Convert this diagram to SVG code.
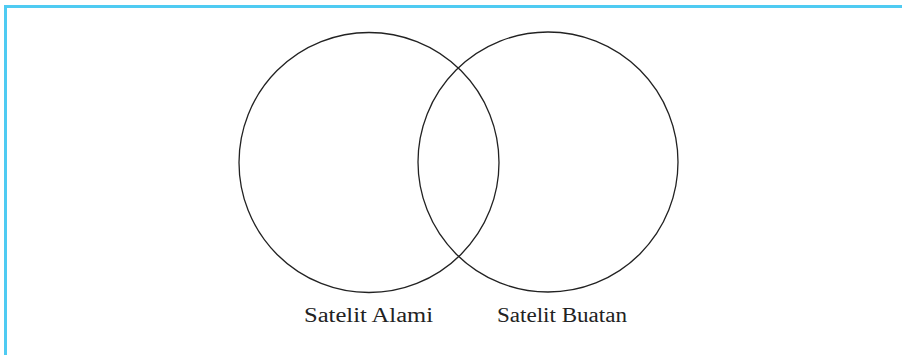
<svg xmlns="http://www.w3.org/2000/svg" width="902" height="355" viewBox="0 0 902 355">
<style>
.frame{fill:none;stroke:#4FCBF2;stroke-width:3}
.set{fill:none;stroke:#222;stroke-width:1.3}
.lbl{font-family:"Liberation Serif",serif;font-size:20px;fill:#222}
</style>
<rect width="902" height="355" fill="#fff"/>
<rect class="frame" x="5.5" y="6.5" width="910" height="360"/>
<g id="satelit-alami">
<circle class="set" cx="369" cy="162.5" r="130"/>
<text class="lbl" x="304" y="322" textLength="129" lengthAdjust="spacingAndGlyphs">Satelit Alami</text>
</g>
<g id="satelit-buatan">
<circle class="set" cx="548" cy="162" r="130"/>
<text class="lbl" x="497" y="322" textLength="130" lengthAdjust="spacingAndGlyphs">Satelit Buatan</text>
</g>
<g id="connectors"></g>
</svg>
